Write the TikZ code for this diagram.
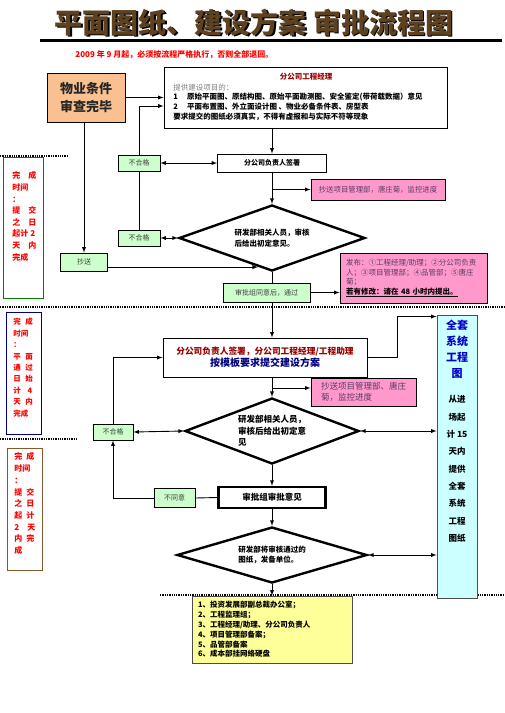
\documentclass[tikz,border=0pt]{standalone}
\usepackage{fontspec}
\newfontfamily\cjk{Noto Sans CJK SC}
\usetikzlibrary{shapes.geometric,calc}
\definecolor{orangebox}{HTML}{FAC090}
\definecolor{greenbox}{HTML}{CCFFCC}
\definecolor{pinkbox}{HTML}{FF99CC}
\definecolor{cyanbox}{HTML}{CCFFFF}
\definecolor{yellowbox}{HTML}{FFFF99}
\definecolor{darkred}{HTML}{990000}
\definecolor{navyblue}{HTML}{000080}
\definecolor{pinktext}{HTML}{5A3A66}
\definecolor{titlebrown}{HTML}{5E4220}
\begin{document}
\begin{tikzpicture}[x=1pt,y=-1pt,>=latex,line width=0.9pt,
  box/.style={draw, rectangle, inner sep=0pt},
  greenlbl/.style={draw, fill=greenbox, inner sep=0pt, text=black!75, font=\cjk\fontsize{7}{8}\selectfont},
  pinklbl/.style={draw, fill=pinkbox, inner sep=0pt, text=pinktext},
  check/.style={draw, diamond, aspect=2.8, line width=2.4pt, inner sep=0pt, align=left},
  timetext/.style={anchor=north west, align=left, inner sep=0pt, text=red},
  sepline/.style={densely dotted, line width=1.3pt}]
\useasboundingbox (0,0) rectangle (504,713);

% title
\node[text=black, font=\cjk\bfseries\fontsize{28}{28}\selectfont] (titleshadow) at (255.5,24) {平面图纸、建设方案\ 审批流程图};
\node[text=titlebrown, font=\cjk\bfseries\fontsize{28}{28}\selectfont] (title) at (254,22.5) {平面图纸、建设方案\ 审批流程图};
\draw[line width=3pt] (40,40) -- (502,40);
\node[anchor=west, inner sep=0pt, text=red, font=\cjk\bfseries\fontsize{8}{9}\selectfont] (note) at (75,55) {2009 年 9 月起，必须按流程严格执行，否则全部退回。};

% first stage
\node[box, fill=orangebox, minimum width=78, minimum height=49, align=center, text=black!85, font=\cjk\bfseries\fontsize{13}{18}\selectfont] (wuye) at (86,97.5) {物业条件\\审查完毕};
\node[box, minimum width=283, minimum height=61] (gcjl) at (305.5,97.5) {};
\node[text=darkred, inner sep=0pt, font=\cjk\bfseries\fontsize{7.5}{9}\selectfont] (gcjltitle) at (306,77) {分公司工程经理};
\node[anchor=north west, align=left, inner sep=0pt, font=\cjk\bfseries\fontsize{7.5}{9.7}\selectfont] (gcjltext) at (173,83.5) {{\mdseries\color{gray}提供建设项目的：}\\
1\hspace{9pt}原始平面图、原结构图、原始平面勘测图、安全鉴定(带荷载数据）意见\\
2\hspace{9pt}平面布置图、外立面设计图\ 、物业必备条件表、房型表\\
要求提交的图纸必须真实，不得有虚报和与实际不符等现象};
\node[box, minimum width=109, minimum height=18, font=\cjk\bfseries\fontsize{7}{8}\selectfont] (qs1) at (272,163) {分公司负责人签署};
\node[greenlbl, minimum width=42, minimum height=16] (bhg1) at (139,163) {不合格};
\node[pinklbl, minimum width=134, minimum height=21, font=\cjk\fontsize{7.4}{9}\selectfont] (cs1) at (378,189.5) {抄送项目管理部，唐庄菊，监控进度};
\node[check, minimum width=186, minimum height=66, font=\cjk\bfseries\fontsize{7.5}{11}\selectfont] (d1) at (272,238) {研发部相关人员，审核\\后给出初定意见。};
\node[greenlbl, minimum width=42, minimum height=16] (bhg2) at (139,238) {不合格};
\node[greenlbl, minimum width=47, minimum height=18] (chaosong) at (84,262) {抄送};
\node[greenlbl, minimum width=87, minimum height=19] (tongguo) at (266.5,292.5) {审批组同意后，通过};
\node[pinklbl, minimum width=147, minimum height=50, text width=135, align=left, font=\cjk\fontsize{7.5}{9.5}\selectfont] (fb) at (413.5,278) {发布：①工程经理/助理；②分公司负责\\人；③项目管理部；④品管部；⑤唐庄\\菊；\\{\color{black}\bfseries\underline{若有修改：请在 48 小时内提出。}}};

% time limits
\node[box, draw=green!50!black, minimum width=40, minimum height=141] (time1) at (23,227.5) {};
\node[timetext, font=\cjk\bfseries\fontsize{8}{11.6}\selectfont] (time1txt) at (12,171.5) {完\hspace{1em}成\\时间\\：\\提\hspace{1em}交\\之\hspace{1em}日\\起计 2\\天\hspace{1em}内\\完成};
\node[box, draw=navyblue, minimum width=35, minimum height=122] (time2) at (23.5,373) {};
\node[timetext, font=\cjk\bfseries\fontsize{7.5}{11.4}\selectfont] (time2txt) at (13,318) {完\hspace{.6em}成\\时间\\：\\平\hspace{.6em}面\\通\hspace{.6em}过\\日\hspace{.6em}始\\计\hspace{.9em}4\\天\hspace{.6em}内\\完成};
\node[box, draw=brown!70!black, minimum width=35, minimum height=122] (time3) at (24.5,509) {};
\node[timetext, font=\cjk\bfseries\fontsize{8}{11.7}\selectfont] (time3txt) at (14,452.5) {完\hspace{.5em}成\\时间\\：\\提\hspace{.5em}交\\之\hspace{.5em}日\\起\hspace{.5em}计\\2\hspace{1em}天\\内\hspace{.5em}完\\成};
\draw[sepline] (0,156) -- (67,156);
\draw[sepline] (0,307) -- (504,307);
\draw[sepline] (0,439) -- (76,439);
\draw[sepline] (160,595) -- (504,595);

% second stage
\node[box, minimum width=204, minimum height=39, align=center, font=\cjk\bfseries] (fa) at (265,357.5) {{\color{darkred}\fontsize{8.7}{13}\selectfont 分公司负责人签署，分公司工程经理/工程助理}\\{\color{navyblue}\fontsize{10}{13}\selectfont 按模板要求提交建设方案}};
\node[pinklbl, minimum width=105, minimum height=28, align=left, font=\cjk\fontsize{8.5}{11}\selectfont] (cs2) at (363.5,392) {抄送项目管理部、唐庄\\菊，监控进度};
\node[check, aspect=2.6, minimum width=174, minimum height=66, font=\cjk\bfseries\fontsize{8.5}{11.5}\selectfont] (d2) at (272,431) {研发部相关人员，\\审核后给出初定意\\见};
\node[greenlbl, minimum width=40, minimum height=16] (bhg3) at (113,432) {不合格};
\node[greenlbl, minimum width=41, minimum height=19] (bty) at (174.5,498) {不同意};
\node[box, line width=2.5pt, minimum width=107, minimum height=21, font=\cjk\bfseries\fontsize{8.5}{10}\selectfont] (sp) at (272,497.5) {审批组审批意见};
\node[check, minimum width=190, minimum height=56, font=\cjk\bfseries\fontsize{7.5}{10}\selectfont] (d3) at (272,555) {研发部将审核通过的\\图纸，发备单位。};
\node[draw=black!70, fill=yellowbox, minimum height=67, inner xsep=6pt, inner ysep=0pt, text width=148, align=left, font=\cjk\bfseries\fontsize{7.5}{9.8}\selectfont] (dist) at (272,629.5) {1、投资发展部副总裁办公室；\\2、工程监理组；\\3、工程经理/助理、分公司负责人\\4、项目管理部备案；\\5、品管部备案\\6、成本部挂网络硬盘};
\node[draw=black!70, fill=cyanbox, minimum width=40, minimum height=283, inner sep=0pt] (qt) at (457,456.5) {};
\node[align=center, inner sep=0pt, text=blue!80!black, font=\cjk\bfseries\fontsize{11}{16}\selectfont] (qttitle) at (457,349) {全套\\系统\\工程\\图};
\node[align=center, inner sep=0pt, font=\cjk\bfseries\fontsize{8.5}{17.3}\selectfont] (qttext) at (457,469) {从进\\场起\\计 15\\天内\\提供\\全套\\系统\\工程\\图纸};

% connectors
\draw[->] (wuye.east) -- (wuye.east -| gcjl.west);
\draw[->] (bhg1.north) |- ($(gcjl.west)+(0,8.5)$);
\draw[->] (chaosong.north |- wuye.south) -- (chaosong.north);
\draw[->] (gcjl.south -| qs1.north) -- (qs1.north);
\draw[<->] (bhg1.east) -- (qs1.west);
\draw[->] (qs1.south) -- (d1.north);
\draw[->] (qs1.south |- cs1.west) -- (cs1.west);
\draw[<->] (bhg2.east) -- (d1.west);
\draw (bhg2.north) -- (bhg1.south);
\coordinate (d1edge) at ($(d1.west)!0.85!(d1.south)$);
\draw[->] (chaosong.east |- d1edge) -- (d1edge);
\draw (d1.south) -- (d1.south |- tongguo.north);
\draw[->] (tongguo.east) -- (tongguo.east -| fb.west);
\draw[->] (d1.south |- tongguo.south) -- (d1.south |- fa.north);
\draw[->] (fa.east) -- ++(30,0) |- ($(qt.north west)+(0,2)$);
\draw[->] (bhg3.north) |- (fa.west);
\draw[<->] (bhg3.east) -- (d2.west);
\draw[->] (d2.north |- fa.south) -- (d2.north);
\coordinate (cs2in) at ($(cs2.west)+(0,-4)$);
\draw[->] (d2.north |- cs2in) -- (cs2in);
\draw[<->] (d2.east) -- (d2.east -| qt.west);
\draw[->] (d2.south) -- (sp.north);
\draw (bty.east) -- (sp.west);
\draw[->] (bty.west) -| (bhg3.south);
\draw[->] (sp.south) -- (d3.north);
\draw[<->] (d3.east) -- (d3.east -| qt.west);
\draw[->] (d3.south) -- (dist.north);
\end{tikzpicture}
\end{document}
